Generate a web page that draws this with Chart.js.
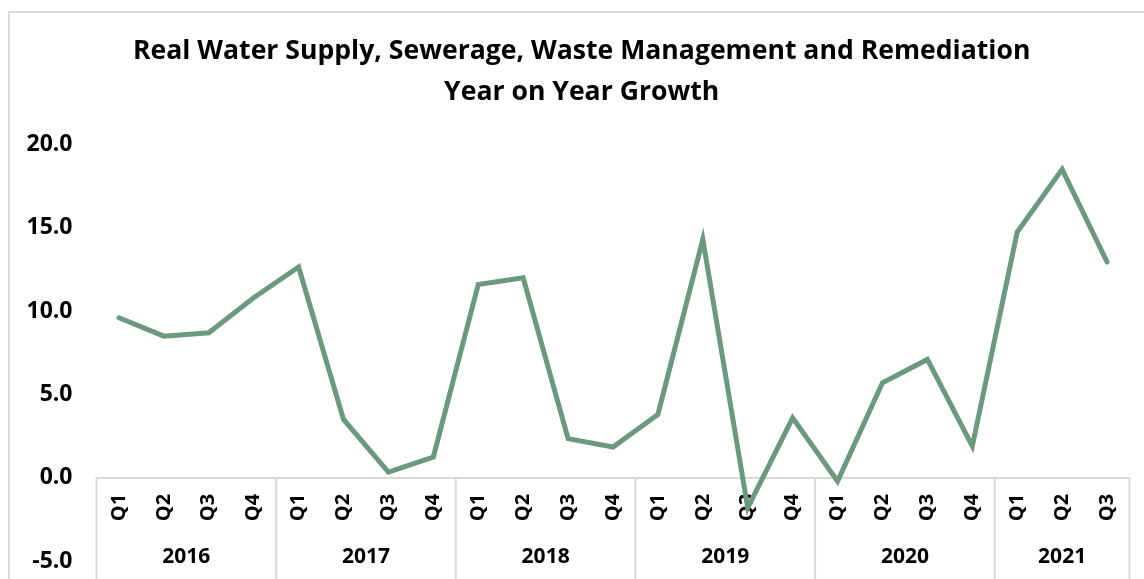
<!DOCTYPE html>
<html>
<head>
<meta charset="utf-8">
<script src="https://cdn.jsdelivr.net/npm/chart.js@4"></script>
<style>
  html, body { margin: 0; padding: 0; background: #fff; overflow: hidden; }
  #wrap { position: relative; width: 1144px; height: 579px; overflow: hidden; }
  #frame { position: absolute; left: 8px; top: 11px; width: 1300px; height: 700px;
           border: 2px solid #dcdcdc; box-sizing: border-box; pointer-events: none; }
  canvas { position: absolute; left: 0; top: 0; }
</style>
</head>
<body>
<div id="wrap">
  <div id="frame"></div>
  <canvas id="chart1" width="1144" height="591"></canvas>
</div>
<script>
/* data */
const years = ['2016', '2017', '2018', '2019', '2020', '2021'];
const quarters = ['Q1', 'Q2', 'Q3', 'Q4', 'Q1', 'Q2', 'Q3', 'Q4', 'Q1', 'Q2', 'Q3', 'Q4',
                  'Q1', 'Q2', 'Q3', 'Q4', 'Q1', 'Q2', 'Q3', 'Q4', 'Q1', 'Q2', 'Q3'];
const growth = [9.6, 8.5, 8.7, 10.8, 12.65, 3.5, 0.35, 1.25, 11.6, 12.0, 2.35, 1.85,
                3.8, 14.3, -1.8, 3.6, -0.2, 5.7, 7.1, 1.9, 14.75, 18.5, 12.95];
const yTicks = [-5, 0, 5, 10, 15, 20];

const fontName = 'Open Sans';

/* year groups + separators under the zero line */
const yearGroups = {
  id: 'yearGroups',
  afterDraw(chart) {
    const ctx = chart.ctx;
    const x = chart.scales.x;
    const y0 = chart.scales.y.getPixelForValue(0);
    const step = (x.right - x.left) / quarters.length;
    ctx.save();
    ctx.strokeStyle = '#d9d9d9';
    ctx.lineWidth = 2;
    years.forEach((yr, i) => {
      const start = i * 4;
      const end = Math.min(start + 4, quarters.length);
      const xs = x.left + start * step;
      const xe = x.left + end * step;
      ctx.beginPath();
      ctx.moveTo(xs, y0);
      ctx.lineTo(xs, chart.height);
      ctx.stroke();
      if (end === quarters.length) {
        ctx.beginPath();
        ctx.moveTo(xe, y0);
        ctx.lineTo(xe, chart.height);
        ctx.stroke();
      }
      ctx.fillStyle = '#000';
      ctx.font = 'bold 21px ' + fontName;
      ctx.textAlign = 'center';
      ctx.textBaseline = 'middle';
      ctx.fillText(yr, (xs + xe) / 2, 557);
    });
    ctx.restore();
  }
};

new Chart(document.querySelector('#chart1'), {
  type: 'line',
  data: {
    labels: quarters,
    datasets: [{
      label: 'Growth',
      data: growth,
      borderColor: '#6A997D',
      borderWidth: 5,
      pointRadius: 0,
      tension: 0,
      borderCapStyle: 'round'
    }]
  },
  options: {
    responsive: false,
    animation: false,
    layout: { padding: { left: 20, right: 14.5, top: 10, bottom: 3 } },
    plugins: {
      legend: { display: false },
      tooltip: { enabled: false },
      title: {
        display: true,
        // leading spaces nudge the centred title right to match the original
        text: ['  Real Water Supply, Sewerage, Waste Management and Remediation', '  Year on Year Growth'],
        color: '#000',
        font: { family: fontName, size: 26.6, weight: 'bold', lineHeight: 1.53 },
        padding: { top: 21, bottom: 32 }
      }
    },
    scales: {
      x: {
        type: 'category',
        offset: true,
        position: { y: 0 },
        grid: { display: false, tickLength: 16 },
        border: { display: true, color: '#d9d9d9', width: 2 },
        ticks: {
          autoSkip: false,
          minRotation: 90,
          maxRotation: 90,
          padding: 0,
          color: '#000',
          font: { family: fontName, size: 20, weight: 'bold' }
        }
      },
      y: {
        min: -5,
        max: 20,
        afterBuildTicks(scale) { scale.ticks = yTicks.map(v => ({ value: v })); },
        afterFit(scale) { scale.width = 76.5; },
        grid: { display: false },
        border: { display: false },
        ticks: {
          padding: 16,
          color: '#000',
          font: { family: fontName, size: 23, weight: 'bold' },
          callback: v => v.toFixed(1)
        }
      }
    }
  },
  plugins: [yearGroups]
});
</script>
</body>
</html>
